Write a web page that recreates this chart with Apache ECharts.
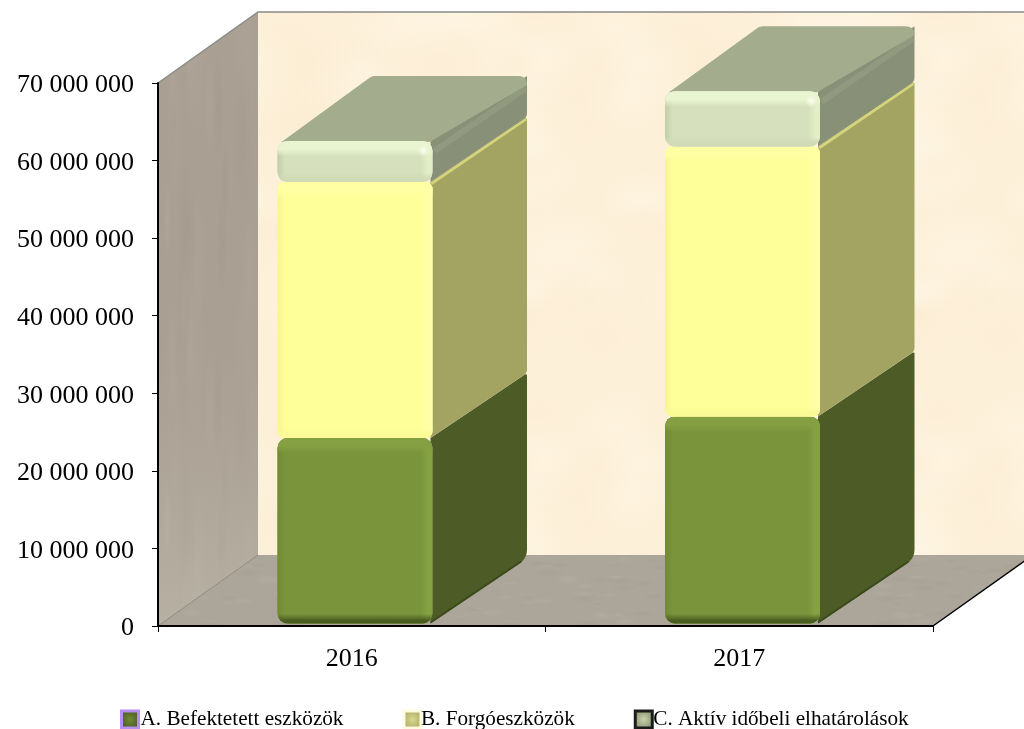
<!DOCTYPE html>
<html><head><meta charset="utf-8">
<style>html,body{margin:0;padding:0;background:#fff}#c{width:1024px;height:729px}</style>
<script src="https://cdn.jsdelivr.net/npm/echarts@6/dist/echarts.min.js"></script>
</head><body><div id="c"></div>
<script>
const categories = ['2016', '2017'];
const nameA = 'A. Befektetett eszközök';
const nameB = 'B. Forgóeszközök';
const nameC = 'C. Aktív időbeli elhatárolások';
const valuesA = [23900000, 26700000];
const valuesB = [33000000, 34800000];
const valuesC = [5300000, 7100000];
const yTicksMax = 70000000;
const yTickStep = 10000000;

const FONT = '"Liberation Serif","Times New Roman",serif';
const WALL_DX = 100, WALL_DY = -71;
const FRONT_DX = 3.25, FRONT_DY = -2.5;
const BAR_DX = 94.5, BAR_DY = -65;
const LG = (x0, y0, x1, y1, st) => new echarts.graphic.LinearGradient(x0, y0, x1, y1,
  st.map(s => ({offset: s[0], color: s[1]})));

function texture(base, blobs, size, seed, sx, sy) {
  const cv = document.createElement('canvas');
  cv.width = cv.height = size;
  const g = cv.getContext('2d');
  g.fillStyle = base; g.fillRect(0, 0, size, size);
  let s = seed;
  const next = () => (s = (s * 16807) % 2147483647) / 2147483647;
  for (let i = 0; i < blobs.n; i++) {
    const x = next() * size, y = next() * size, r = blobs.r * (0.4 + next());
    const col = next() > 0.5 ? blobs.a : blobs.b;
    for (const ox of [-size, 0, size]) for (const oy of [-size, 0, size]) {
      g.save();
      g.translate(x + ox, y + oy); g.scale(sx, sy);
      const gr = g.createRadialGradient(0, 0, 0, 0, 0, r);
      gr.addColorStop(0, col); gr.addColorStop(1, col.replace(/[\d.]+\)$/, '0)'));
      g.fillStyle = gr; g.fillRect(-r, -r, 2 * r, 2 * r);
      g.restore();
    }
  }
  return {image: cv, repeat: 'repeat'};
}
const backTex = texture('#fdf0d9', {n: 60, r: 40, a: 'rgba(255,248,232,0.4)', b: 'rgba(250,234,206,0.3)'}, 400, 12345, 1.4, 1);
const leftTex = texture('#a99f92', {n: 70, r: 30, a: 'rgba(185,178,166,0.2)', b: 'rgba(150,135,125,0.2)'}, 300, 777, 0.25, 2.5);
const floorTex = texture('#aca69a', {n: 260, r: 6, a: 'rgba(190,185,173,0.25)', b: 'rgba(150,144,132,0.2)'}, 300, 4242, 2, 0.5);

function roundPoly(pts, radii) {
  const out = [], n = pts.length;
  for (let i = 0; i < n; i++) {
    const p = pts[i], r = radii[i];
    if (!r) { out.push(p); continue; }
    const a = pts[(i + n - 1) % n], b = pts[(i + 1) % n];
    const la = Math.hypot(a[0] - p[0], a[1] - p[1]), lb = Math.hypot(b[0] - p[0], b[1] - p[1]);
    const s = [p[0] + (a[0] - p[0]) * r / la, p[1] + (a[1] - p[1]) * r / la];
    const e = [p[0] + (b[0] - p[0]) * r / lb, p[1] + (b[1] - p[1]) * r / lb];
    for (let t = 0; t <= 1.001; t += 0.2) {
      const u = 1 - t;
      out.push([u * u * s[0] + 2 * u * t * p[0] + t * t * e[0], u * u * s[1] + 2 * u * t * p[1] + t * t * e[1]]);
    }
  }
  return out;
}

const looks = {
  A: {r: 10, front: '#7a943c', side: '#4d5b26', hi: '#84a042', right: '#85a242', left: '#718b35', low: '#4a5d20', sideEdge: null, sideLow: '#3a4a1a'},
  B: {r: 7, front: '#ffff99', side: '#a3a362', hi: '#ffffa4', right: '#ffffa8', left: '#f6f494', low: '#fafa96', sideEdge: '#d4d47c', sideLow: null},
  C: {r: 10, front: '#d6e0bc', side: '#899078', hi: '#e9f4d0', right: '#e2eec6', left: '#c0ceaa', low: '#d0dab6', sideEdge: '#a3ad8d', sideLow: null, top: '#a3ad8d'}
};

function barRenderer(key) {
  const L = looks[key];
  return function (params, api) {
    const cat = api.value(0), base = api.value(1), val = api.value(2);
    const lo = api.coord([cat, base]), hi = api.coord([cat, base + val]);
    const w = api.size([1, 0])[0] * 0.4;
    const x0 = lo[0] - w / 2 + FRONT_DX, x1 = x0 + w;
    const yb = lo[1] + FRONT_DY, yt = hi[1] + FRONT_DY;
    const h = yb - yt;
    const kids = [];
    kids.push({type: 'polygon', silent: true, shape: {points: roundPoly(
      [[x1 - 2, yt], [x1 + BAR_DX, yt + BAR_DY], [x1 + BAR_DX, yb + BAR_DY], [x1 - 2, yb]],
      [0, key === 'C' ? 0 : 3, key === 'A' ? 9 : 4, 0])}, style: {fill: L.side}});
    if (L.top) {
      kids.push({type: 'line', silent: true, shape: {x1: x1 + 2, y1: yt + 10, x2: x1 + BAR_DX - 1, y2: yt + BAR_DY + 12},
        style: {stroke: 'rgba(163,173,141,0.35)', lineWidth: 6}});
      kids.push({type: 'polygon', silent: true, shape: {points: roundPoly(
        [[x0 + 4, yt + 1], [x1 - 3, yt + 1], [x1 + BAR_DX, yt + BAR_DY + 9], [x1 + BAR_DX, yt + BAR_DY], [x0 + BAR_DX, yt + BAR_DY]],
        [0, 0, 0, 9, 3])}, style: {fill: L.top}});
    } else if (L.sideEdge) {
      kids.push({type: 'line', silent: true, shape: {x1: x1 - 1, y1: yt + 1.5, x2: x1 + BAR_DX - 1, y2: yt + BAR_DY + 2},
        style: {stroke: L.sideEdge, lineWidth: 3}});
    }
    if (L.sideLow) {
      kids.push({type: 'line', silent: true, shape: {x1: x1 - 2, y1: yb - 1, x2: x1 + BAR_DX - 6, y2: yb + BAR_DY + 3},
        style: {stroke: L.sideLow, lineWidth: 2}});
    }
    const edge = 8 / w, ev = Math.min(0.35, 9 / h), lowH = Math.min(0.3, 6 / h);
    const shape = {x: x0, y: yt, width: w, height: h, r: L.r};
    kids.push({type: 'rect', silent: true, shape, style: {fill: L.front}});
    kids.push({type: 'rect', silent: true, shape,
      style: {fill: LG(0, 0, 1, 0, [[0, L.left], [edge, L.front], [1 - edge * 1.5, L.front], [1 - edge * 0.6, L.right], [1, L.right]])}});
    kids.push({type: 'rect', silent: true, shape,
      style: {fill: LG(0, 0, 0, 1, [[0, L.hi], [ev * 0.9, L.hi], [ev * 1.7, rgba(L.hi, 0)], [1 - lowH * 1.6, rgba(L.low, 0)], [1 - lowH * 0.5, L.low], [1, L.low]])}});
    if (L.top) {
      kids.push({type: 'circle', silent: true, shape: {cx: x1 - 9, cy: yt + 10, r: 6},
        style: {fill: new echarts.graphic.RadialGradient(0.5, 0.5, 0.5, [{offset: 0, color: 'rgba(255,255,245,0.85)'}, {offset: 1, color: 'rgba(255,255,245,0)'}])}});
    }
    return {type: 'group', children: kids};
  };
}
function rgba(hex, a) {
  const n = parseInt(hex.slice(1), 16);
  return 'rgba(' + (n >> 16) + ',' + ((n >> 8) & 255) + ',' + (n & 255) + ',' + a + ')';
}
function wallRenderer(params) {
  const c = params.coordSys;
  const l = c.x, t = c.y, r = c.x + c.width, b = c.y + c.height;
  const dx = WALL_DX, dy = WALL_DY;
  return {type: 'group', silent: true, children: [
    {type: 'polygon', shape: {points: [[l + dx, t + dy], [r + dx, t + dy], [r + dx, b + dy], [l + dx, b + dy]]}, style: {fill: backTex}},
    {type: 'polygon', shape: {points: [[l, t], [l + dx, t + dy], [l + dx, b + dy], [l, b]]}, style: {fill: leftTex}},
    {type: 'polygon', shape: {points: [[l, t], [l + dx, t + dy], [l + dx, b + dy], [l, b]]},
      style: {fill: LG(0, 0, 0, 1, [[0, 'rgba(190,185,172,0)'], [0.55, 'rgba(190,185,172,0)'], [1, 'rgba(196,192,180,0.5)']])}},
    {type: 'polygon', shape: {points: [[l, b], [l + dx, b + dy], [r + dx, b + dy], [r, b]]}, style: {fill: floorTex}},
    {type: 'polyline', shape: {points: [[l, t], [l + dx, t + dy], [r + dx, t + dy]]}, style: {stroke: '#8b8b86', lineWidth: 1.5, fill: 'none'}},
    {type: 'line', shape: {x1: l, y1: b, x2: l + dx, y2: b + dy}, style: {stroke: '#8f8a80', lineWidth: 1}},
    {type: 'line', shape: {x1: r, y1: b, x2: r + dx, y2: b + dy}, style: {stroke: '#000', lineWidth: 1.5}}
  ]};
}
let stackBase = categories.map(() => 0);
function stacked(vals) {
  const d = vals.map((v, i) => [i, stackBase[i], v]);
  stackBase = stackBase.map((b, i) => b + vals[i]);
  return d;
}
const legendIcon = (c0, c1, border, bw) => ({icon: 'rect', itemStyle: {
  color: new echarts.graphic.RadialGradient(0.5, 0.5, 0.6, [{offset: 0, color: c0}, {offset: 1, color: c1}]),
  borderColor: border, borderWidth: bw}});
const legendText = (gapFix) => ({fontFamily: FONT, fontSize: 21.2, color: '#000', padding: [0, 0, 0, gapFix]});

const chart = echarts.init(document.getElementById('c'), null, {renderer: 'canvas', width: 1024, height: 729});
chart.setOption({
  animation: false,
  backgroundColor: '#fff',
  grid: {left: 158, right: 91, top: 83, bottom: 103, containLabel: false},
  legend: {
    left: 120, top: 709, itemWidth: 17, itemHeight: 17, itemGap: 59, padding: 0,
    selectedMode: false,
    textStyle: legendText(-3),
    data: [
      Object.assign({name: nameA, textStyle: legendText(-3)}, legendIcon('#6f8a38', '#44531f', '#b88ef4', 3)),
      Object.assign({name: nameB, textStyle: legendText(-5)}, legendIcon('#d8d890', '#a5a55f', '#fdfbe0', 3)),
      Object.assign({name: nameC, textStyle: legendText(-4)}, legendIcon('#c8d2ac', '#7f8a68', '#1c1c1c', 3))
    ]
  },
  xAxis: {
    type: 'category', data: categories, z: 6,
    axisLine: {lineStyle: {color: '#000', width: 2}},
    axisTick: {show: true, length: 6, lineStyle: {color: '#000', width: 1}},
    axisLabel: {fontFamily: FONT, fontSize: 26, color: '#000', margin: 20}
  },
  yAxis: {
    type: 'value', min: 0, max: yTicksMax, interval: yTickStep, z: 6,
    axisLine: {show: true, lineStyle: {color: '#000', width: 2}},
    axisTick: {show: true, length: 6, lineStyle: {color: '#000', width: 1}},
    splitLine: {show: false},
    axisLabel: {fontFamily: FONT, fontSize: 26, color: '#000', margin: 24, verticalAlign: 'top', padding: [-10.5, 0, 0, 0],
      formatter: v => String(v).replace(/\B(?=(\d{3})+$)/g, ' ')}
  },
  series: [
    {type: 'custom', z: 1, silent: true, coordinateSystem: 'cartesian2d', clip: false, renderItem: wallRenderer, data: [[0, 0]], encode: {x: 0, y: 1}},
    {type: 'custom', name: nameA, z: 3, clip: false, silent: true, renderItem: barRenderer('A'), data: stacked(valuesA), encode: {x: 0, y: 1}, itemStyle: {color: '#7a943c'}},
    {type: 'custom', name: nameB, z: 3, clip: false, silent: true, renderItem: barRenderer('B'), data: stacked(valuesB), encode: {x: 0, y: 1}, itemStyle: {color: '#ffff99'}},
    {type: 'custom', name: nameC, z: 3, clip: false, silent: true, renderItem: barRenderer('C'), data: stacked(valuesC), encode: {x: 0, y: 1}, itemStyle: {color: '#d6e0bc'}}
  ]
});
</script></body></html>
